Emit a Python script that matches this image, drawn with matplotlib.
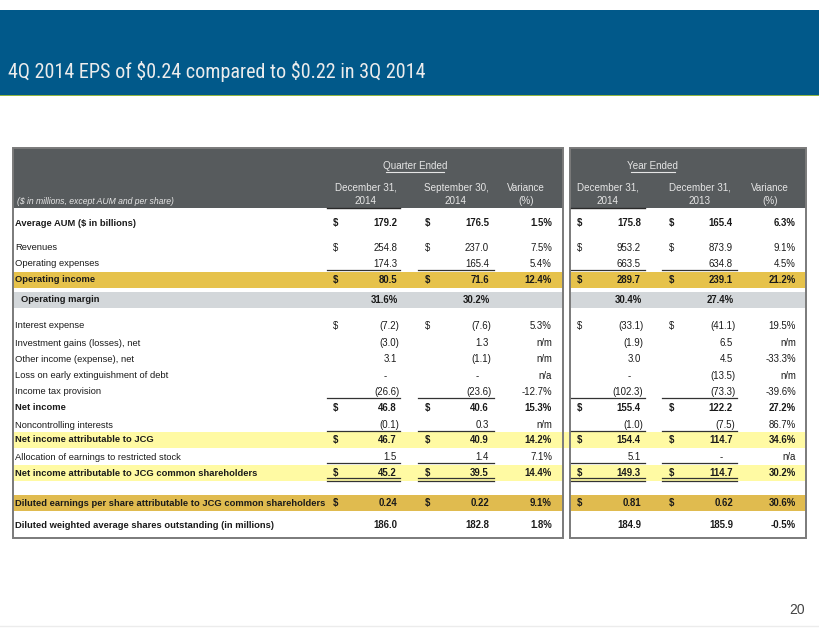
import matplotlib
matplotlib.use("Agg")
import matplotlib.pyplot as plt
from matplotlib.patches import Rectangle
from matplotlib import font_manager

plt.rcParams['text.parse_math'] = False
plt.rcParams['font.family'] = ['Liberation Sans', 'DejaVu Sans']

# ---------------- data ----------------
title = "4Q 2014 EPS of $0.24 compared to $0.22 in 3Q 2014"
page_number = "20"
units_note = "($ in millions, except AUM and per share)"
group_titles = ["Quarter Ended", "Year Ended"]
col_headers = [("December 31,", "2014"), ("September 30,", "2014"), ("Variance", "(%)"),
               ("December 31,", "2014"), ("December 31,", "2013"), ("Variance", "(%)")]

row_labels = [
    "Average AUM ($ in billions)",
    "Revenues",
    "Operating expenses",
    "Operating income",
    "Operating margin",
    "Interest expense",
    "Investment gains (losses), net",
    "Other income (expense), net",
    "Loss on early extinguishment of debt",
    "Income tax provision",
    "Net income",
    "Noncontrolling interests",
    "Net income attributable to JCG",
    "Allocation of earnings to restricted stock",
    "Net income attributable to JCG common shareholders",
    "Diluted earnings per share attributable to JCG common shareholders",
    "Diluted weighted average shares outstanding (in millions)",
]
q4_2014 = ['179.2', '254.8', '174.3', '80.5', '31.6%', '(7.2)', '(3.0)', '3.1', '-', '(26.6)',
           '46.8', '(0.1)', '46.7', '1.5', '45.2', '0.24', '186.0']
q3_2014 = ['176.5', '237.0', '165.4', '71.6', '30.2%', '(7.6)', '1.3', '(1.1)', '-', '(23.6)',
           '40.6', '0.3', '40.9', '1.4', '39.5', '0.22', '182.8']
q_variance = ['1.5%', '7.5%', '5.4%', '12.4%', '', '5.3%', 'n/m', 'n/m', 'n/a', '-12.7%',
              '15.3%', 'n/m', '14.2%', '7.1%', '14.4%', '9.1%', '1.8%']
fy_2014 = ['175.8', '953.2', '663.5', '289.7', '30.4%', '(33.1)', '(1.9)', '3.0', '-', '(102.3)',
           '155.4', '(1.0)', '154.4', '5.1', '149.3', '0.81', '184.9']
fy_2013 = ['165.4', '873.9', '634.8', '239.1', '27.4%', '(41.1)', '6.5', '4.5', '(13.5)', '(73.3)',
           '122.2', '(7.5)', '114.7', '-', '114.7', '0.62', '185.9']
fy_variance = ['6.3%', '9.1%', '4.5%', '21.2%', '', '19.5%', 'n/m', '-33.3%', 'n/m', '-39.6%',
               '27.2%', '86.7%', '34.6%', 'n/a', '30.2%', '30.6%', '-0.5%']
bold_rows = [0, 3, 4, 10, 12, 14, 15, 16]
dollar_rows = [0, 1, 3, 5, 10, 12, 14, 15]
single_line_after = [2, 9, 11, 13]
double_line_after = [14]

# ---------------- fonts ----------------
installed = {f.name for f in font_manager.fontManager.ttflist}
narrow = None
for cand in ['Liberation Sans Narrow', 'Arial Narrow', 'Roboto Condensed',
             'Open Sans Condensed', 'DejaVu Sans Condensed']:
    if cand in installed:
        narrow = cand
        break
if narrow in ('Liberation Sans Narrow', 'Arial Narrow'):
    title_font, title_size = [narrow, 'DejaVu Sans'], 14.8
elif narrow == 'Roboto Condensed':
    title_font, title_size = [narrow, 'DejaVu Sans'], 14.5
else:
    title_font, title_size = ['Liberation Sans', 'DejaVu Sans'], 12.6

# ---------------- layout / style ----------------
W, H = 820, 635
fig = plt.figure(figsize=(W / 100, H / 100), dpi=100)
ax = fig.add_axes([0, 0, 1, 1])
ax.set_xlim(0, W)
ax.set_ylim(H, 0)
ax.axis('off')

BLUE = '#01598a'
HEAD = '#575b5d'
GOLD = '#e6c24b'
GOLD2 = '#e0bb4f'
YELLOW = '#fffaa3'
GREY = '#d3d7da'
TXT = '#1a1a1a'
BORDER = '#7a7a7a'
FS = 6.9
FSL = 6.75

row_y = [223, 248, 264, 280, 300, 326, 343, 359, 376, 392, 408, 425, 440, 457, 473, 503, 525]
bands = {3: GOLD, 4: GREY, 12: YELLOW, 14: YELLOW, 15: GOLD2}
gap_band_rows = [12]

boxes = [(13, 563), (570, 806)]
box_top, head_bot, box_bot = 148, 208, 538

# banner
ax.add_patch(Rectangle((0, 10), W, 85, color=BLUE, lw=0, zorder=1))
ax.add_patch(Rectangle((0, 94.5), W, 1.6, color='#8fb543', lw=0, zorder=2))
ax.text(8, 72, title, fontsize=title_size, family=title_font, color='#ececec',
        va='center', ha='left', zorder=3)

# page number and footer line
ax.text(805, 610, page_number, fontsize=10, color='#444444', ha='right', va='center')
ax.plot([0, W], [626, 626], color='#ececec', lw=1)

# bands
for r, c in bands.items():
    y = row_y[r]
    for (x0, x1) in boxes:
        ax.add_patch(Rectangle((x0, y - 8), x1 - x0, 15.5, color=c, lw=0, zorder=1))
    if r in gap_band_rows:
        ax.add_patch(Rectangle((boxes[0][1], y - 8), boxes[1][0] - boxes[0][1], 15.5,
                               color=c, lw=0, zorder=1))

# headers
for (x0, x1) in boxes:
    ax.add_patch(Rectangle((x0, box_top), x1 - x0, head_bot - box_top, color=HEAD, lw=0, zorder=1))
    ax.add_patch(Rectangle((x0, box_top), x1 - x0, box_bot - box_top, fill=False,
                           ec=BORDER, lw=1.4, zorder=4))

HTXT = '#e6e6e6'
group_x = [415, 653]
for gx, gt in zip(group_x, group_titles):
    ax.text(gx, 166, gt, fontsize=7.1, color=HTXT, ha='center', va='center', zorder=5)
    hw = 0.5 * 4.45 * len(gt)
    ax.plot([gx - hw, gx + hw], [171.5, 171.5], color=HTXT, lw=0.8, zorder=5)

col_centers = [366, 456, 526, 608, 700, 770]
for cx, (l1, l2) in zip(col_centers, col_headers):
    ax.text(cx, 188, l1, fontsize=7.1, color=HTXT, ha='center', va='center', zorder=5)
    ax.text(cx, 201, l2, fontsize=7.1, color=HTXT, ha='center', va='center', zorder=5)
ax.text(17, 202, units_note, fontsize=6.2, style='italic', color=HTXT, ha='left',
        va='center', zorder=5)
for (a, b) in [(327, 400), (571, 645)]:
    ax.plot([a, b], [207.5, 207.5], color='#2a2a2a', lw=1, zorder=5)

# row labels
for i, lab in enumerate(row_labels):
    x = 21 if i == 4 else 15
    ax.text(x, row_y[i], lab, fontsize=FSL, color=TXT, ha='left', va='center',
            fontweight='bold' if i in bold_rows else 'normal', zorder=5)

# value columns
value_cols = [q4_2014, q3_2014, q_variance, fy_2014, fy_2013, fy_variance]
right_x = [397, 489, 552, 641, 733, 796]
dollar_x = [333, 425, None, 577, 669, None]
line_span = [(327, 400), (418, 494), None, (571, 645), (662, 737), None]

for c, vals in enumerate(value_cols):
    for i, v in enumerate(vals):
        if not v:
            continue
        y = row_y[i]
        w = 'bold' if i in bold_rows else 'normal'
        x = right_x[c]
        if v.endswith(')'):
            x += 2.5
        elif v == '-':
            x -= 10
        elif v.endswith('%') and c not in (2, 5):
            x += 1
        ax.text(x, y, v, fontsize=FS, color=TXT, ha='right', va='center', fontweight=w, zorder=5)
        if dollar_x[c] is not None and i in dollar_rows:
            ax.text(dollar_x[c], y, '$', fontsize=FS, color=TXT, ha='left', va='center',
                    fontweight=w, zorder=5)

# underlines
for c, span in enumerate(line_span):
    if span is None:
        continue
    for r in single_line_after:
        yy = row_y[r] + 5.5
        ax.plot(span, [yy, yy], color='#333333', lw=0.9, zorder=6)
    for r in double_line_after:
        for yy in (row_y[r] + 5, row_y[r] + 7.5):
            ax.plot(span, [yy, yy], color='#333333', lw=0.9, zorder=6)

fig.savefig('out.png', dpi=100)
